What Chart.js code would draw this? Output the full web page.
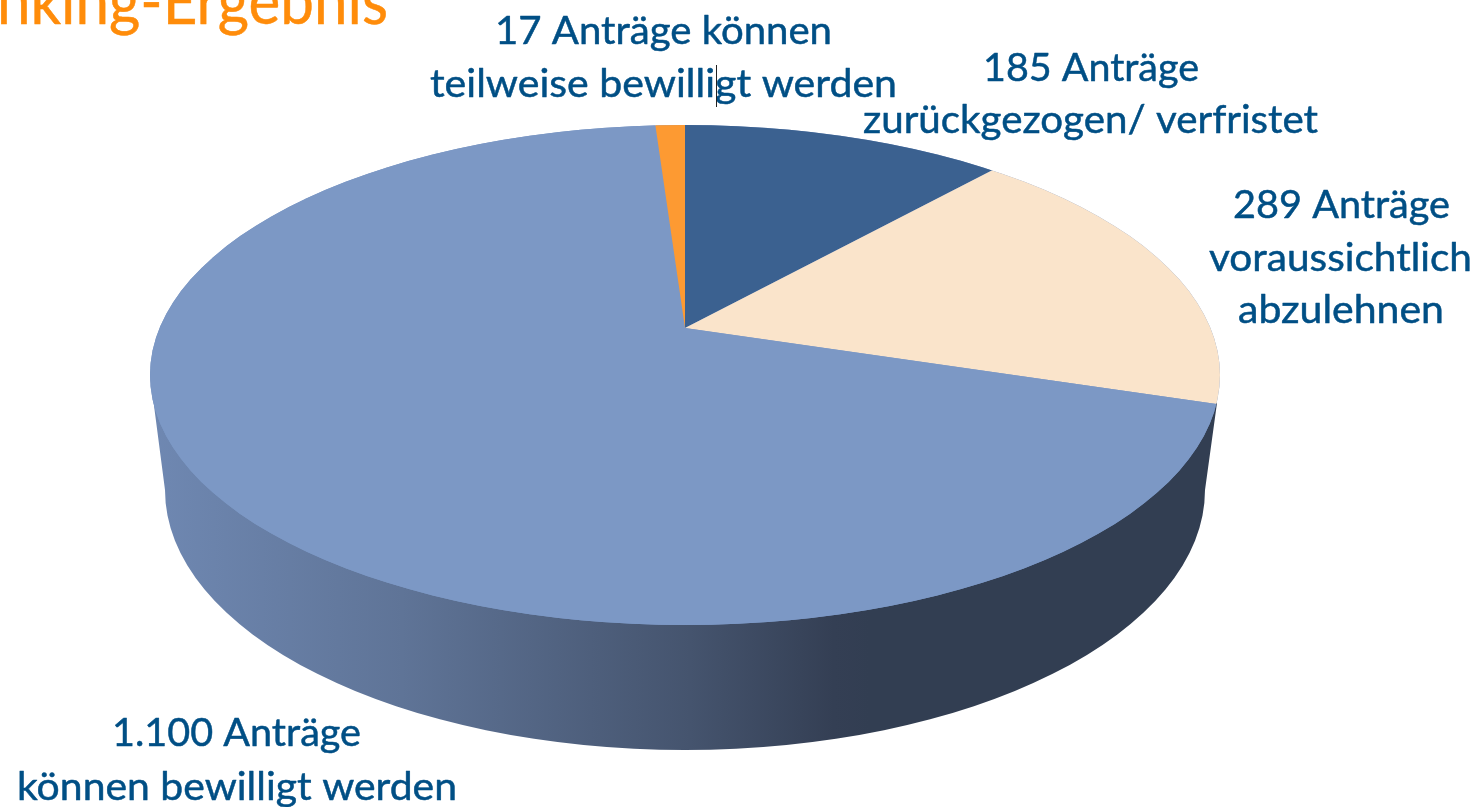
<!DOCTYPE html>
<html lang="de">
<head>
<meta charset="utf-8">
<title>Ranking-Ergebnis</title>
<style>
html,body{margin:0;padding:0;background:#fff;overflow:hidden}
#wrap{position:absolute;left:0;top:0;width:1479px;height:807px}
</style>
<script src="https://cdn.jsdelivr.net/npm/chart.js@4/dist/chart.umd.min.js"></script>
</head>
<body>
<div id="wrap"><canvas id="c" width="1479" height="807"></canvas></div>
<script>
const categories = ["zurückgezogen/ verfristet", "voraussichtlich abzulehnen", "können bewilligt werden", "können teilweise bewilligt werden"];
const values = [185, 289, 1100, 17];
const sliceColors = ["#3b6190", "#fae4cb", "#7c98c5", "#fd9a32"];
const titleText = "nking-Ergebnis";
const labelLines = [
  "17 Anträge können", "teilweise bewilligt werden",
  "185 Anträge", "zurückgezogen/ verfristet",
  "289 Anträge", "voraussichtlich", "abzulehnen",
  "1.100 Anträge", "können bewilligt werden"
];
// [left, baseline, width] for each label line
const labelBoxes = [
  [495,44,337],[430,97,467],
  [983,81,216],[863,133,455],
  [1233,218,217],[1209,271,263],[1238,323,206],
  [112,746,249],[17,800,440]
];
const TOP = {cx:685, cy:375, rx:535, ry:250};
const BOTTOM = {cx:685, cy:490, rx:520, ry:260};
const APEX = {x:685, y:328};
const TILT = 0.46, REACH = 700;

function fitText(ctx, s, x, y, w, weight){
  const m = ctx.measureText(s).width;
  ctx.save(); ctx.translate(x,y); ctx.scale(w/m,1);
  ctx.fillText(s,0,0);
  ctx.lineWidth = weight; ctx.lineJoin = "round"; ctx.strokeText(s,0,0);
  ctx.restore();
}
const pie3d = {
  id:"pie3d",
  beforeDatasetsDraw(chart){
    const ctx = chart.ctx;
    // side wall
    const g = ctx.createLinearGradient(150,0,870,0);
    g.addColorStop(0,"#6f88b2");
    g.addColorStop(0.35,"#5f7497");
    g.addColorStop(0.75,"#45546e");
    g.addColorStop(0.95,"#343f54");
    g.addColorStop(1,"#323e52");
    ctx.beginPath();
    ctx.moveTo(1217,403);
    ctx.lineTo(BOTTOM.cx+BOTTOM.rx,BOTTOM.cy);
    ctx.ellipse(BOTTOM.cx,BOTTOM.cy,BOTTOM.rx,BOTTOM.ry,0,0,Math.PI);
    ctx.lineTo(TOP.cx-TOP.rx,TOP.cy);
    ctx.closePath();
    ctx.fillStyle = g; ctx.fill();
    // top face
    ctx.beginPath();
    ctx.ellipse(TOP.cx,TOP.cy,TOP.rx,TOP.ry,0,0,Math.PI*2);
    ctx.fillStyle = sliceColors[2]; ctx.fill();
    const arc = chart.getDatasetMeta(0).data[0];
    const sx = REACH/arc.outerRadius;
    ctx.save();
    ctx.beginPath();
    ctx.ellipse(TOP.cx,TOP.cy,TOP.rx,TOP.ry,0,0,Math.PI*2);
    ctx.clip();
    ctx.translate(APEX.x,APEX.y);
    ctx.scale(sx,sx*TILT);
    ctx.translate(-arc.x,-arc.y);
  },
  afterDatasetsDraw(chart){
    const ctx = chart.ctx;
    ctx.restore();
    ctx.textBaseline = "alphabetic";
    ctx.textAlign = "left";
    ctx.fillStyle = ctx.strokeStyle = "#ff8c0a";
    ctx.font = "64px Lato";
    fitText(ctx,titleText,-3,24,391,0.5);
    ctx.fillStyle = ctx.strokeStyle = "#004f85";
    ctx.font = "39px Lato";
    labelLines.forEach((s,i)=>{
      const b = labelBoxes[i];
      fitText(ctx,s,b[0],b[1],b[2],0.5);
    });
    ctx.fillStyle = "#222";
    ctx.fillRect(716,65,1,42);
  }
};
new Chart(document.getElementById("c"),{
  type:"pie",
  data:{labels:categories,datasets:[{data:values,backgroundColor:sliceColors,borderWidth:0}]},
  options:{
    responsive:false,animation:false,rotation:0,
    layout:{padding:0},
    plugins:{legend:{display:false},title:{display:false},tooltip:{enabled:false}}
  },
  plugins:[pie3d]
});
</script>
</body>
</html>
